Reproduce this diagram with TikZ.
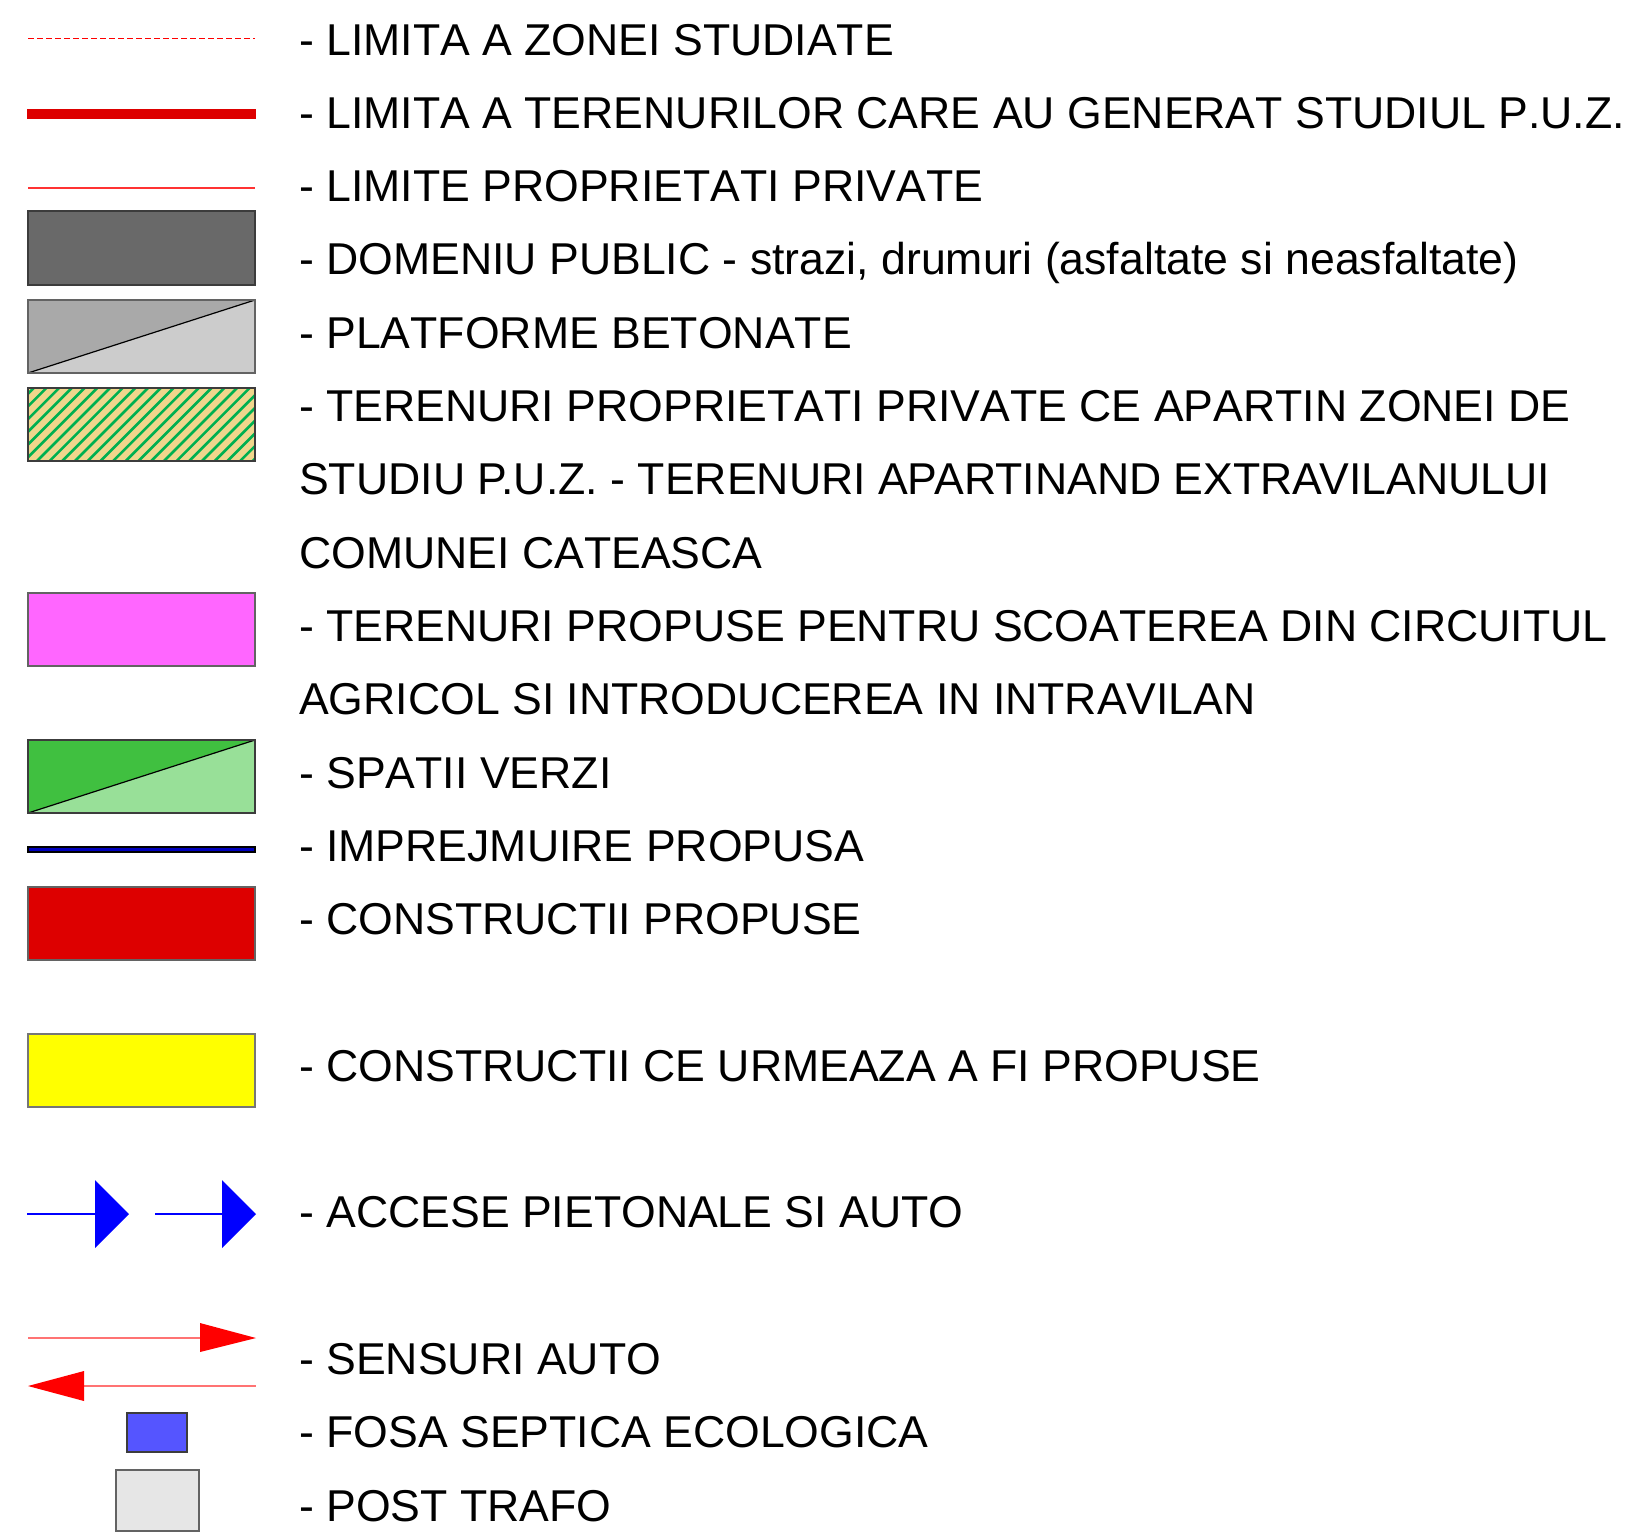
\documentclass[tikz,border=0pt]{standalone}
\usepackage{fontspec}
\setmainfont[Kerning=Off]{Liberation Sans}
\definecolor{dkgray}{RGB}{105,105,105}
\definecolor{concA}{RGB}{169,169,169}
\definecolor{concB}{RGB}{204,204,204}
\definecolor{tan}{RGB}{240,214,140}
\definecolor{hatchgreen}{RGB}{0,176,80}
\definecolor{pinkk}{RGB}{255,102,255}
\definecolor{grA}{RGB}{64,192,64}
\definecolor{grB}{RGB}{152,224,152}
\definecolor{redd}{RGB}{221,0,0}
\definecolor{yell}{RGB}{255,255,0}
\definecolor{bluesq}{RGB}{85,85,255}
\definecolor{ltgray}{RGB}{230,230,230}
\definecolor{edge}{RGB}{60,60,60}
\definecolor{fenceblue}{RGB}{0,0,190}
\begin{document}
\begin{tikzpicture}[x=1pt,y=-1pt,
  lbl/.style={anchor=base west,inner sep=0pt,font=\fontsize{44.6}{53}\selectfont},
  box/.style={draw=edge,line width=1.2pt}]
\useasboundingbox (0,0) rectangle (1629,1532);
% symbols
\draw[red,line width=1pt,dash pattern=on 6pt off 3pt] (28,38) -- (255,38);
\draw[redd,line width=10pt] (27,114) -- (256,114);
\draw[red!80,line width=1.2pt] (28,188) -- (255,188);
\draw[box,fill=dkgray] (28,211) rectangle (255,285);
\fill[concA] (28,300) -- (255,300) -- (28,373) -- cycle;
\fill[concB] (255,300) -- (255,373) -- (28,373) -- cycle;
\draw[black,line width=1.2pt] (28,373) -- (255,300);
\draw[box,draw=edge!80] (28,300) rectangle (255,373);
\fill[tan] (28,388) rectangle (255,461);
\begin{scope}
\clip (28,388) rectangle (255,461);
\foreach \i in {0,...,26}{
  \draw[hatchgreen,line width=2.6pt] ({28+\i*12.7-80},461) -- ({28+\i*12.7},381);
}
\end{scope}
\draw[box] (28,388) rectangle (255,461);
\draw[box,draw=edge!80,fill=pinkk] (28,593) rectangle (255,666);
\fill[grA] (28,740) -- (255,740) -- (28,813) -- cycle;
\fill[grB] (255,740) -- (255,813) -- (28,813) -- cycle;
\draw[black,line width=1.2pt] (28,813) -- (255,740);
\draw[box] (28,740) rectangle (255,813);
\draw[black,line width=7pt] (27,849.5) -- (256,849.5);
\draw[fenceblue,line width=3pt] (29,849.5) -- (254,849.5);
\draw[box,draw=edge!80,fill=redd] (28,887) rectangle (255,960);
\draw[box,draw=edge!70,fill=yell] (28,1034) rectangle (255,1107);
% accese
\draw[blue,line width=2pt] (27,1214) -- (96,1214);
\fill[blue] (95,1180) -- (129,1214) -- (95,1248) -- cycle;
\draw[blue,line width=2pt] (155,1214) -- (223,1214);
\fill[blue] (222,1180) -- (256,1214) -- (222,1248) -- cycle;
% sensuri
\draw[red!55,line width=1.5pt] (28,1338) -- (201,1338);
\fill[red] (200,1323) -- (256,1338) -- (200,1352) -- cycle;
\draw[red!55,line width=1.5pt] (83,1386) -- (256,1386);
\fill[red] (84,1371) -- (28,1386) -- (84,1401) -- cycle;
\draw[box,fill=bluesq] (127,1413) rectangle (187,1452);
\draw[box,draw=edge!80,fill=ltgray] (116,1470) rectangle (199,1531);
% labels
\node[lbl] (t1) at (299,55.0) {- LIMITA A ZONEI STUDIATE};
\node[lbl] (t2) at (299,128.3) {- LIMITA A TERENURILOR CARE AU GENERAT STUDIUL P.U.Z.};
\node[lbl] (t3) at (299,201.6) {- LIMITE PROPRIETATI PRIVATE};
\node[lbl] (t4) at (299,274.9) {- DOMENIU PUBLIC - strazi, drumuri (asfaltate si neasfaltate)};
\node[lbl] (t5) at (299,348.2) {- PLATFORME BETONATE};
\node[lbl] (t6a) at (299,421.5) {- TERENURI PROPRIETATI PRIVATE CE APARTIN ZONEI DE};
\node[lbl] (t6b) at (299,494.8) {\addfontfeatures{Kerning=On}STUDIU P.U.Z. - TERENURI APARTINAND EXTRAVILANULUI};
\node[lbl] (t6c) at (299,568.1) {COMUNEI CATEASCA};
\node[lbl] (t7a) at (299,641.4) {- TERENURI PROPUSE PENTRU SCOATEREA DIN CIRCUITUL};
\node[lbl] (t7b) at (299,714.7) {AGRICOL SI INTRODUCEREA IN INTRAVILAN};
\node[lbl] (t8) at (299,788.0) {- SPATII VERZI};
\node[lbl] (t9) at (299,861.3) {- IMPREJMUIRE PROPUSA};
\node[lbl] (t10) at (299,934.6) {- CONSTRUCTII PROPUSE};
\node[lbl] (t11) at (299,1081.2) {- CONSTRUCTII CE URMEAZA A FI PROPUSE};
\node[lbl] (t12) at (299,1227.8) {- ACCESE PIETONALE SI AUTO};
\node[lbl] (t13) at (299,1374.4) {- SENSURI AUTO};
\node[lbl] (t14) at (299,1447.7) {- FOSA SEPTICA ECOLOGICA};
\node[lbl] (t15) at (299,1521.0) {- POST TRAFO};
\end{tikzpicture}
\end{document}
